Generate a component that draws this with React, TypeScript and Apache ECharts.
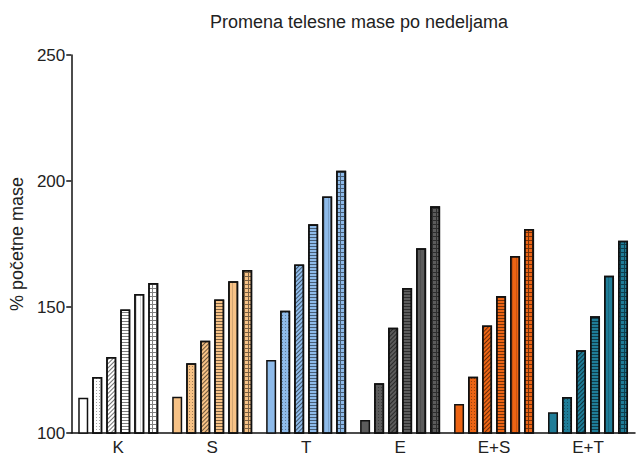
import React, { useEffect, useRef } from "react";
import * as echarts from "echarts";

const categories = ["K", "S", "T", "E", "E+S", "E+T"];
const weeks = ["1. nedelja", "2. nedelja", "3. nedelja", "4. nedelja", "5. nedelja", "6. nedelja"];
// values[week][category]
const week1 = [114.0, 114.4, 129.0, 105.2, 111.5, 108.2];
const week2 = [122.2, 127.7, 148.5, 119.7, 122.3, 114.3];
const week3 = [130.2, 136.6, 166.9, 141.8, 142.7, 132.8];
const week4 = [149.0, 153.0, 182.8, 157.5, 154.4, 146.3];
const week5 = [155.2, 160.2, 193.8, 173.3, 170.2, 162.4];
const week6 = [159.5, 164.7, 204.1, 190.0, 181.0, 176.3];
const weekValues = [week1, week2, week3, week4, week5, week6];
const categoryColors = ["#ffffff", "#f7c286", "#8ebbea", "#5c5c5c", "#ec6414", "#1f7d98"];
const yTicks = [100, 150, 200, 250];

const decals: any[] = [
  "none",
  { color: "rgba(0,0,0,0.35)", dashArrayX: [1, 2], dashArrayY: [1, 2] },
  { color: "rgba(0,0,0,0.55)", dashArrayX: [1, 0], dashArrayY: [1, 2], rotation: -Math.PI / 4 },
  { color: "rgba(0,0,0,0.5)", dashArrayX: [1, 0], dashArrayY: [1, 2] },
  { color: "rgba(0,0,0,0.15)", dashArrayX: [1, 3], dashArrayY: [1, 0] },
  { color: "rgba(0,0,0,0.5)", dashArrayX: [[1, 0], [1, 3]], dashArrayY: [1, 0, 3, 0] },
];

export default function App() {
  const ref = useRef<HTMLDivElement>(null);
  useEffect(() => {
    if (!ref.current) return;
    const chart = echarts.init(ref.current, null, { renderer: "svg" });
    const font = "'Liberation Sans', Arial, sans-serif";
    chart.setOption({
      animation: false,
      backgroundColor: "#ffffff",
      title: {
        text: "Promena telesne mase po nedeljama",
        left: 354,
        textAlign: "center",
        top: 8,
        textStyle: { fontFamily: font, fontSize: 18, fontWeight: "normal", color: "#222" },
      },
      grid: { left: 70, right: 3, top: 55, bottom: 26 },
      xAxis: {
        type: "category",
        data: categories,
        axisLine: { lineStyle: { color: "#111", width: 1.5 } },
        axisTick: { show: false },
        axisLabel: { fontFamily: font, fontSize: 17, color: "#222", margin: 6 },
      },
      yAxis: {
        type: "value",
        min: 100,
        max: 250,
        interval: 50,
        name: "% početne mase",
        nameLocation: "middle",
        nameGap: 36,
        nameTextStyle: { fontFamily: font, fontSize: 18, color: "#222" },
        axisLine: { show: true, lineStyle: { color: "#111", width: 1.5 } },
        axisTick: { show: true, length: 5, lineStyle: { color: "#111", width: 1.5 } },
        axisLabel: {
          fontFamily: font,
          fontSize: 17,
          color: "#222",
          margin: 6,
          formatter: (v: number) => (yTicks.includes(v) ? String(v) : ""),
        },
        splitLine: { show: false },
      },
      series: weekValues.map((vals, w) => ({
        type: "bar",
        name: weeks[w],
        barWidth: 10,
        barGap: "40%",
        data: vals.map((v, c) => ({
          value: v,
          itemStyle: {
            color: categoryColors[c],
            borderColor: "#111",
            borderWidth: 1.5,
            decal: decals[w],
          },
        })),
      })),
    });
    return () => chart.dispose();
  }, []);
  return (
    <div
      ref={ref}
      style={{ position: "absolute", left: 0, top: 0, width: 638, height: 459 }}
    />
  );
}
